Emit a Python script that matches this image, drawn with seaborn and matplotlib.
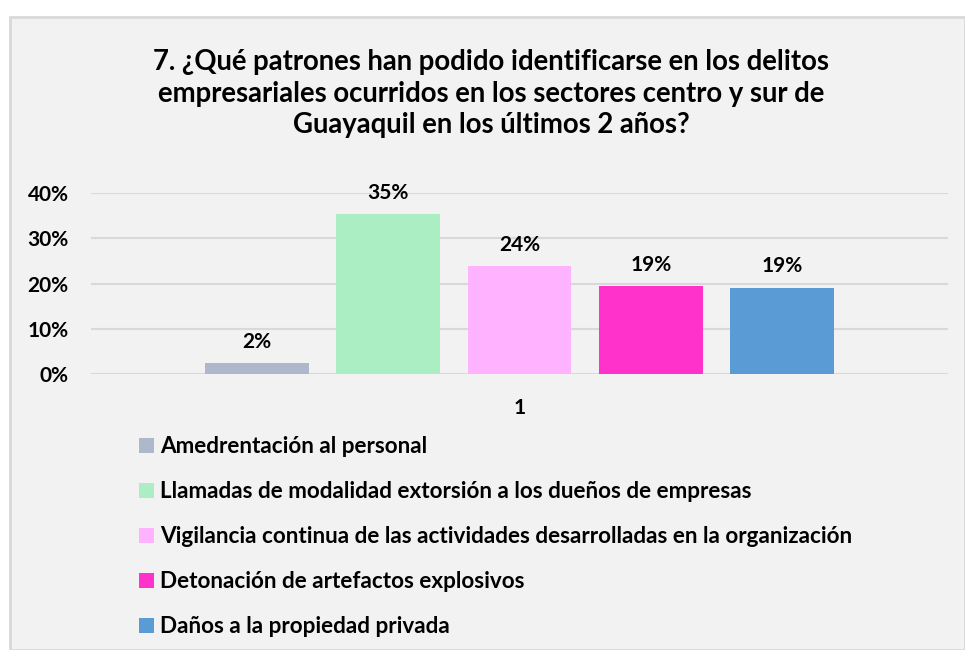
import pandas as pd
import seaborn as sns
import matplotlib.pyplot as plt
from matplotlib.patches import Patch, Rectangle

# datos
patrones = [
    'Amedrentación al personal',
    'Llamadas de modalidad extorsión a los dueños de empresas',
    'Vigilancia continua de las actividades desarrolladas en la organización',
    'Detonación de artefactos explosivos',
    'Daños a la propiedad privada',
]
valores = [0.024, 0.353, 0.238, 0.195, 0.191]
etiquetas = ['2%', '35%', '24%', '19%', '19%']
colores = ['#ADB9CA', '#ABEEC4', '#FFB2FF', '#FF33CC', '#5B9BD5']
grupo = ['1'] * len(patrones)
y_ticks = [0, 0.1, 0.2, 0.3, 0.4]
y_ticklabels = ['0%', '10%', '20%', '30%', '40%']

titulo = ('7. ¿Qué patrones han podido identificarse en los delitos\n'
          'empresariales ocurridos en los sectores centro y sur de\n'
          'Guayaquil en los últimos 2 años?')

df = pd.DataFrame({'grupo': grupo, 'valor': valores, 'patron': patrones})

sns.set_style('white')
plt.rcParams['font.family'] = ['Lato', 'DejaVu Sans']
plt.rcParams['font.weight'] = 'bold'
plt.rcParams['text.color'] = 'black'

fig = plt.figure(figsize=(9.65, 6.5), dpi=100, facecolor='white')

# fondo gris con borde como en Excel
fondo = Rectangle((10 / 965, 0), 1 - 10 / 965, 1 - 17 / 650, transform=fig.transFigure,
                  facecolor='#F2F2F2', edgecolor='#D9D9D9', linewidth=2, zorder=-5)
fig.patches.append(fondo)

ax = fig.add_axes([91 / 965, 1 - 374 / 650, (948 - 91) / 965, (374 - 193) / 650])
ax.set_facecolor('none')

sns.barplot(data=df, x='grupo', y='valor', hue='patron', hue_order=patrones,
            palette=colores, width=0.767, gap=0.21, saturation=1, legend=False,
            linewidth=0, edgecolor='none', ax=ax)

for cont, lab in zip(ax.containers, etiquetas):
    ax.bar_label(cont, labels=[lab], padding=8, fontsize=15, fontweight='bold', color='black')

ax.set_ylim(0, 0.4)
ax.set_yticks(y_ticks)
ax.set_yticklabels(y_ticklabels, fontsize=15, fontweight='bold', color='black')
ax.tick_params(axis='y', length=0, pad=16)
ax.tick_params(axis='x', length=0, pad=17, labelsize=15, labelcolor='black')
for t in ax.get_xticklabels():
    t.set_fontweight('bold')
ax.set_xlabel('')
ax.set_ylabel('')
ax.grid(axis='y', color='#D9D9D9', linewidth=1.5)
ax.set_axisbelow(True)
sns.despine(ax=ax, left=True, bottom=True, top=True, right=True)

fig.text(491 / 965, 1 - 49 / 650, titulo, ha='center', va='top', fontsize=19.8,
         fontweight='bold', linespacing=1.27)

handles = [Patch(facecolor=c, edgecolor='none') for c in colores]
fig.legend(handles, patrones, loc='upper left', bbox_to_anchor=(139 / 965, 1 - 436 / 650),
           frameon=False, prop={'weight': 'bold', 'size': 16.2},
           handlelength=0.65, handleheight=0.65, handletextpad=0.3,
           labelspacing=1.07, borderpad=0, borderaxespad=0)

fig.savefig('out.png', dpi=100, facecolor='white')
